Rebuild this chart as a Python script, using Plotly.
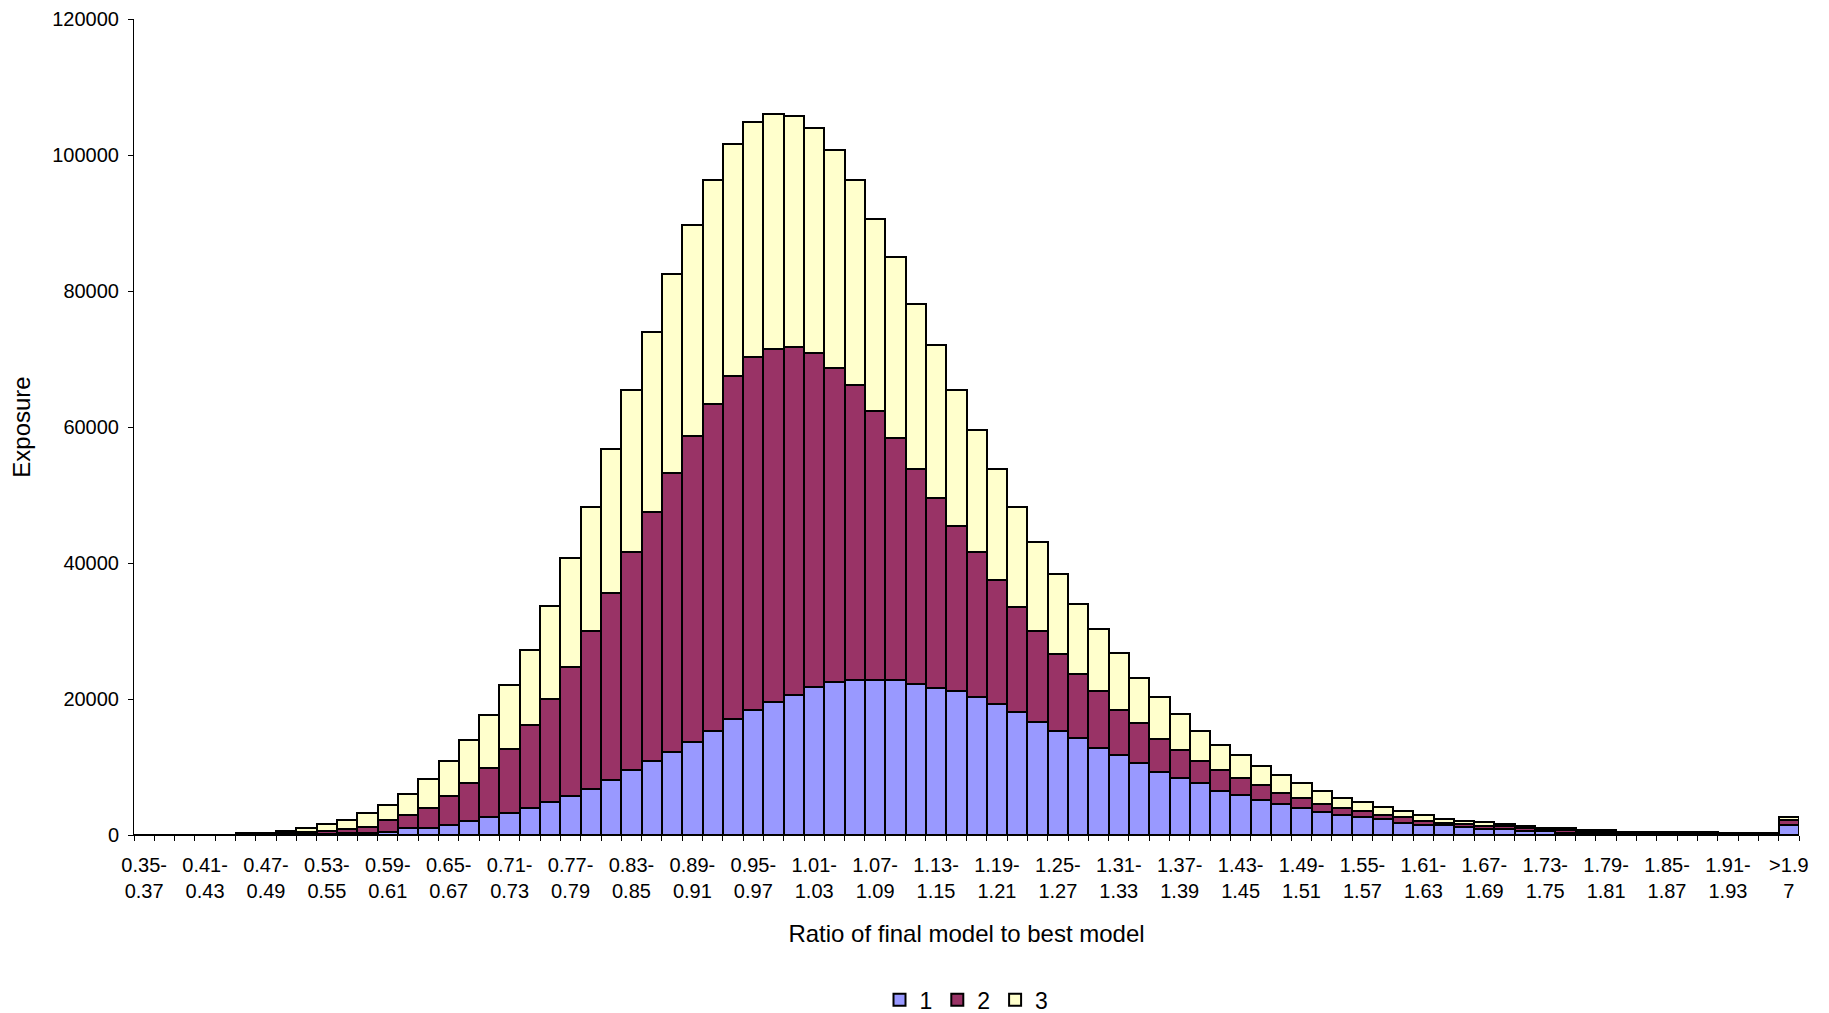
import plotly.graph_objects as go

# bin labels: 0.35-0.37 ... 1.95-1.97, then >1.97
lows = [round(0.35 + 0.02 * i, 2) for i in range(81)]
categories = [f"{lo:.2f}-{lo + 0.02:.2f}" for lo in lows] + [">1.97"]

# stacked exposure (blue / cumulative purple / total)
series_1 = [0, 0, 0, 0, 0, 50, 50, 100, 150, 200,
            245, 343, 441, 1000, 1000, 1520, 2110, 2700, 3280, 4020,
            4850, 5690, 6810, 8140, 9560, 10880, 12250, 13680, 15340, 17010,
            18380, 19510, 20590, 21720, 22550, 22840, 22840, 22840, 22260, 21670,
            21130, 20290, 19220, 18140, 16670, 15340, 14220, 12840, 11770, 10640,
            9270, 8430, 7600, 6520, 5880, 5150, 4510, 3950, 3410, 2890,
            2650, 2350, 1810, 1520, 1520, 1180, 880, 880, 640, 640,
            340, 340, 340, 250, 150, 100, 100, 100, 50, 50,
            50, 1470]
cum_2 = [0, 0, 0, 0, 0, 150, 150, 300, 400, 650,
         850, 1250, 2180, 2940, 4000, 5740, 7620, 9850, 12620, 16230,
         20070, 24780, 30000, 35540, 41620, 47450, 53235, 58730, 63430, 67550,
         70340, 71520, 71720, 70930, 68730, 66200, 62300, 58430, 53775, 49630,
         45490, 41620, 37500, 33580, 30050, 26670, 23680, 21230, 18380, 16420,
         14170, 12550, 10880, 9560, 8380, 7300, 6230, 5420, 4530, 4000,
         3500, 2940, 2600, 2060, 1810, 1570, 1320, 1300, 1000, 850,
         700, 600, 600, 400, 350, 300, 300, 300, 150, 150,
         150, 2210]
totals = [0, 0, 0, 0, 0, 250, 300, 550, 1100, 1650,
          2200, 3250, 4350, 6000, 8220, 10950, 14000, 17620, 22030, 27250,
          33630, 40770, 48240, 56790, 65390, 73920, 82500, 89660, 96320, 101570,
          104850, 105980, 105740, 104020, 100740, 96320, 90590, 85050, 78140, 72010,
          65390, 59560, 53800, 48290, 43040, 38330, 33920, 30290, 26720, 23140,
          20340, 17790, 15340, 13240, 11810, 10100, 8780, 7700, 6520, 5470,
          4900, 4070, 3480, 2990, 2400, 2110, 1860, 1620, 1320, 1030,
          1030, 780, 780, 490, 490, 490, 490, 490, 250, 250,
          250, 2700]

series_2 = [c - b for c, b in zip(cum_2, series_1)]
series_3 = [t - c for t, c in zip(totals, cum_2)]

# every third bin gets a label, Excel-style wrapped on two lines
tick_text = []
for i, cat in enumerate(categories):
    if i % 3 != 0:
        tick_text.append("")
    elif cat == ">1.97":
        tick_text.append(">1.9<br>7")
    else:
        lo, hi = cat.split("-")
        tick_text.append(f"{lo}-<br>{hi}")

FONT = "Liberation Sans, Arial, sans-serif"
colors = {"1": "#9999FF", "2": "#993366", "3": "#FFFFCC"}

fig = go.Figure()
for name, vals in [("1", series_1), ("2", series_2), ("3", series_3)]:
    fig.add_trace(go.Bar(
        x=categories, y=vals, name=name,
        marker=dict(color=colors[name], line=dict(color="black", width=2)),
    ))

# the page body adds an 8px offset, margins compensate for it
fig.update_layout(
    barmode="stack",
    bargap=0,
    width=1829, height=1013,
    margin=dict(l=126, r=38, t=11, b=186, autoexpand=False),
    plot_bgcolor="white",
    paper_bgcolor="white",
    font=dict(family=FONT, size=20, color="black"),
    legend=dict(orientation="h", x=0.5, xanchor="center", y=-0.202, yanchor="middle",
                font=dict(size=23), itemwidth=30, traceorder="normal"),
)
fig.update_xaxes(
    type="category", automargin=False,
    tickmode="array", tickvals=categories, ticktext=tick_text, tickangle=0,
    tickson="boundaries", ticks="outside", ticklen=5, tickcolor="black",
    ticklabelstandoff=12,
    showline=True, linecolor="black", linewidth=1,
    tickfont=dict(size=20),
    title=dict(text="Ratio of final model to best model", font=dict(size=24), standoff=24),
    showgrid=False,
)
fig.update_yaxes(
    automargin=False,
    range=[0, 120000], dtick=20000, tickformat="d",
    ticks="outside", ticklen=5, tickcolor="black",
    ticklabelstandoff=5,
    showline=True, linecolor="black", linewidth=1,
    tickfont=dict(size=20),
    title=dict(text="Exposure", font=dict(size=24), standoff=17),
    showgrid=False, zeroline=False,
)

fig.write_html("out.html")
